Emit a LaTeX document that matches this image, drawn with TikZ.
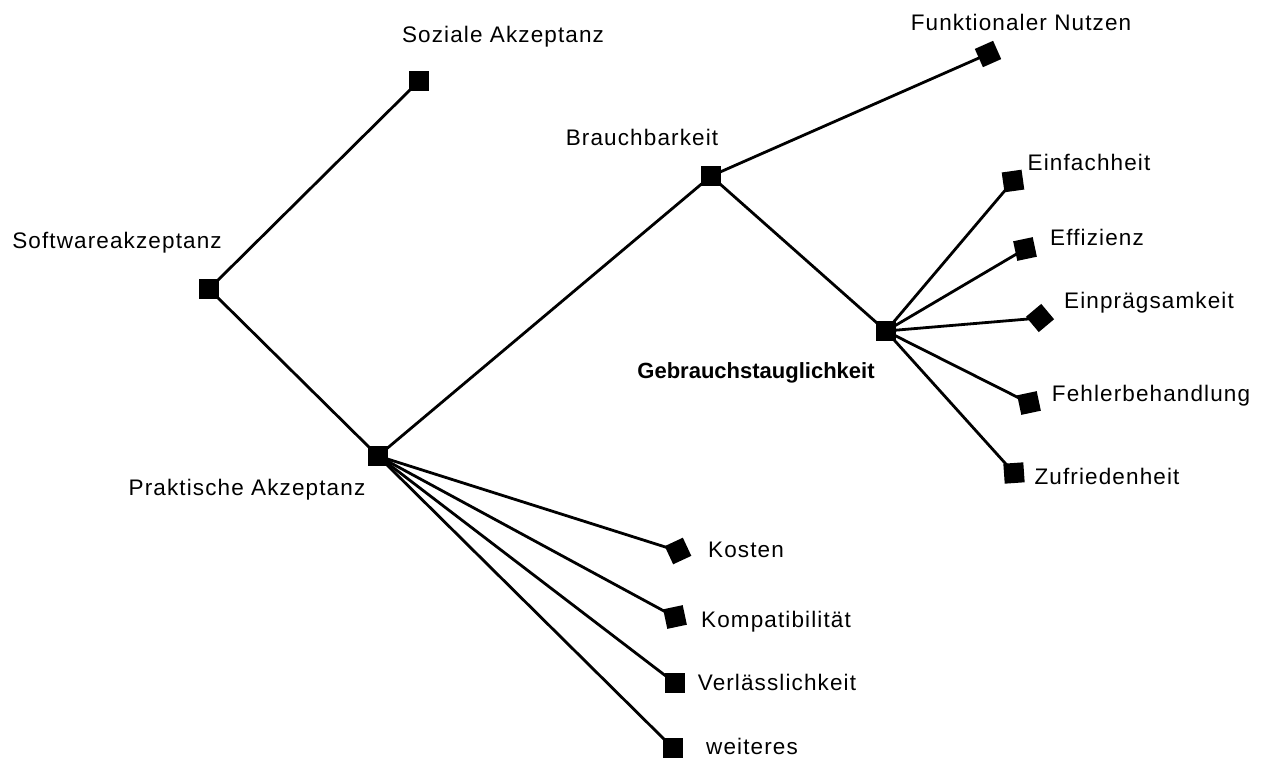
\documentclass[tikz,border=0pt]{standalone}
\usepackage{fontspec}
\setmainfont{Liberation Sans}[LetterSpace=5]
\newfontfamily\tightsans{Liberation Sans}
\begin{document}
\begin{tikzpicture}[x=1pt,y=-1pt,
  knot/.style={rectangle,fill=black,inner sep=0pt,minimum size=20pt},
  lbl/.style={inner sep=0pt,font=\fontsize{22.5}{26}\selectfont},
  edge/.style={line width=2.8pt}]
\useasboundingbox (0,0) rectangle (1263,761);
% branch points and leaves
\node[knot] (sw) at (209,289) {};
\node[knot] (soz) at (419,81) {};
\node[knot] (pr) at (378,456) {};
\node[knot] (br) at (711,176) {};
\node[knot,rotate=24] (fn) at (988,54) {};
\node[knot] (gb) at (886,331) {};
\node[knot,rotate=8] (ei) at (1013,181) {};
\node[knot,rotate=12] (ef) at (1025,249) {};
\node[knot,rotate=40] (ep) at (1040,318) {};
\node[knot,rotate=12] (fe) at (1029,403) {};
\node[knot,rotate=4] (zu) at (1014,473) {};
\node[knot,rotate=25] (ko) at (678,551) {};
\node[knot,rotate=12] (kp) at (675,617) {};
\node[knot] (ve) at (675,683) {};
\node[knot] (we) at (673,748) {};
% labels
\node[lbl] (tsw) at (117,243) {Softwareakzeptanz};
\node[lbl] (tsoz) at (503,37) {Soziale Akzeptanz};
\node[lbl] (tpr) at (247,490) {Praktische Akzeptanz};
\node[lbl] (tbr) at (642,137) {Brauchbarkeit};
\node[lbl] (tfn) at (1021,22) {Funktionaler Nutzen};
\node[lbl,font=\fontsize{22}{26}\selectfont\tightsans\bfseries] (tgb) at (756,373) {Gebrauchstauglichkeit};
\node[lbl] (tei) at (1089,162) {Einfachheit};
\node[lbl] (tef) at (1097,237) {Effizienz};
\node[lbl] (tep) at (1149,303) {Einprägsamkeit};
\node[lbl] (tfe) at (1151,396) {Fehlerbehandlung};
\node[lbl] (tzu) at (1107,476) {Zufriedenheit};
\node[lbl] (tko) at (746,550) {Kosten};
\node[lbl] (tkp) at (776,622) {Kompatibilität};
\node[lbl] (tve) at (777,682) {Verlässlichkeit};
\node[lbl] (twe) at (752,746) {weiteres};
% connectors
\draw[edge] (sw.center) -- (soz.center);
\draw[edge] (sw.center) -- (pr.center);
\draw[edge] (pr.center) -- (br.center);
\draw[edge] (br.center) -- (fn.center);
\draw[edge] (br.center) -- (gb.center);
\foreach \t in {ei,ef,ep,fe,zu} \draw[edge] (gb.center) -- (\t.center);
\foreach \t in {ko,kp,ve,we} \draw[edge] (pr.center) -- (\t.center);
\end{tikzpicture}
\end{document}
